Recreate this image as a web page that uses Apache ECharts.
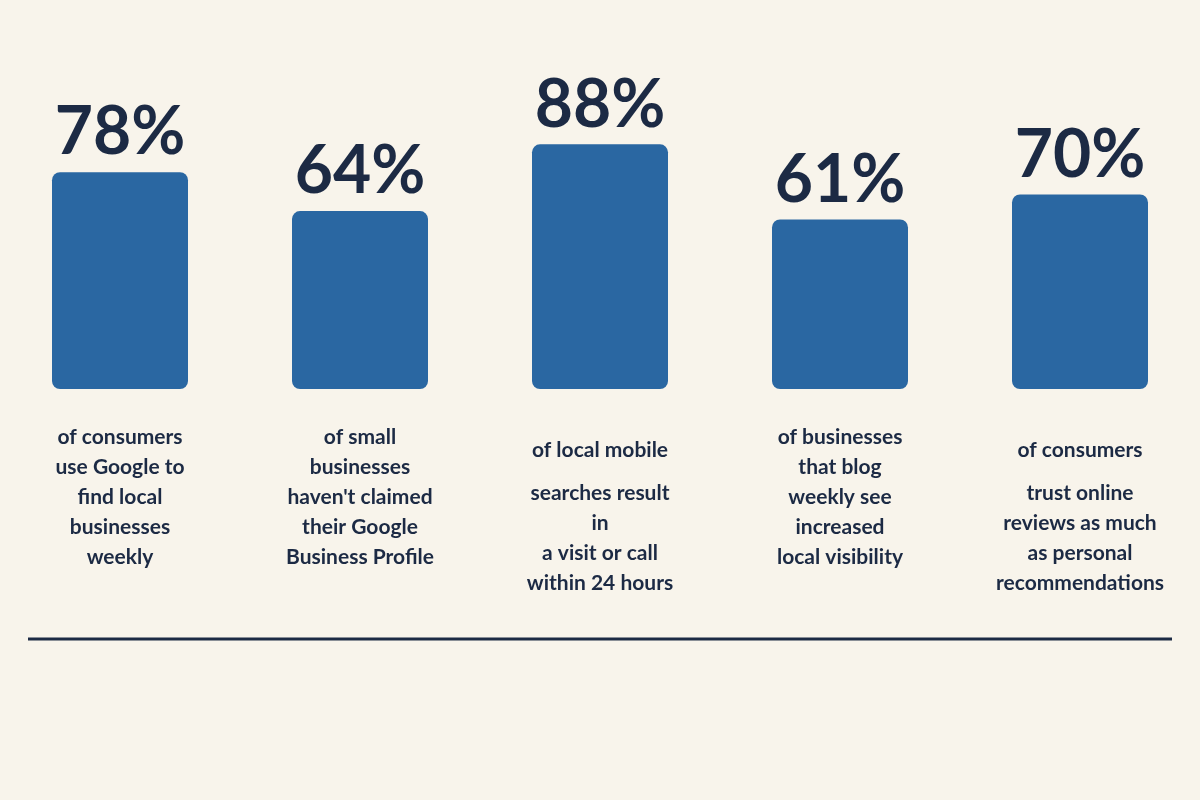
<!DOCTYPE html>
<html><head><meta charset="utf-8">
<script src="https://cdn.jsdelivr.net/npm/echarts@6/dist/echarts.min.js"></script>
<style>html,body{margin:0;padding:0;background:#f8f4eb;}#c{width:1200px;height:800px;}</style>
</head><body><div id="c"></div>
<script>
const categories = [
  "of consumers\nuse Google to\nfind local\nbusinesses\nweekly",
  "of small\nbusinesses\nhaven't claimed\ntheir Google\nBusiness Profile",
  "of local mobile\nsearches result\nin\na visit or call\nwithin 24 hours",
  "of businesses\nthat blog\nweekly see\nincreased\nlocal visibility",
  "of consumers\ntrust online\nreviews as much\nas personal\nrecommendations"
];
const values = [78, 64, 88, 61, 70];
const shifted = [false, false, true, false, true];

const chart = echarts.init(document.getElementById('c'));
chart.setOption({
  backgroundColor: '#f8f4eb',
  grid: { left: 0, right: 0, top: 111, bottom: 411 },
  xAxis: {
    type: 'category', data: categories,
    axisLine: { show: false }, axisTick: { show: false },
    axisLabel: {
      interval: 0, margin: 33, color: '#1c2a44',
      fontFamily: 'Lato', fontWeight: 'bold', fontSize: 21, lineHeight: 30,
      formatter: function (v, i) {
        const lines = v.split('\n');
        const s = shifted[i] ? 'f' : 'n';
        return lines.map((l, k) => '{' + (k === 0 ? s : 'n') + '|' + l + '}').join('\n');
      },
      rich: {
        n: { fontFamily: 'Lato', fontWeight: 'bold', fontSize: 21, lineHeight: 30, color: '#1c2a44' },
        f: { fontFamily: 'Lato', fontWeight: 'bold', fontSize: 21, lineHeight: 56, color: '#1c2a44' }
      }
    }
  },
  yAxis: { type: 'value', min: 0, max: 100, show: false, splitLine: { show: false } },
  series: [{
    type: 'bar', data: values, barWidth: 136,
    itemStyle: { color: '#2a67a2', borderRadius: 8 },
    label: {
      show: true, position: 'top', distance: 6, formatter: '{c}%',
      fontFamily: 'Lato', fontWeight: 'bold', fontSize: 66, color: '#1c2a44'
    }
  }],
  graphic: [{
    type: 'line', shape: { x1: 28, y1: 639, x2: 1172, y2: 639 },
    style: { stroke: '#1c2a44', lineWidth: 3 }
  }]
});
</script></body></html>
